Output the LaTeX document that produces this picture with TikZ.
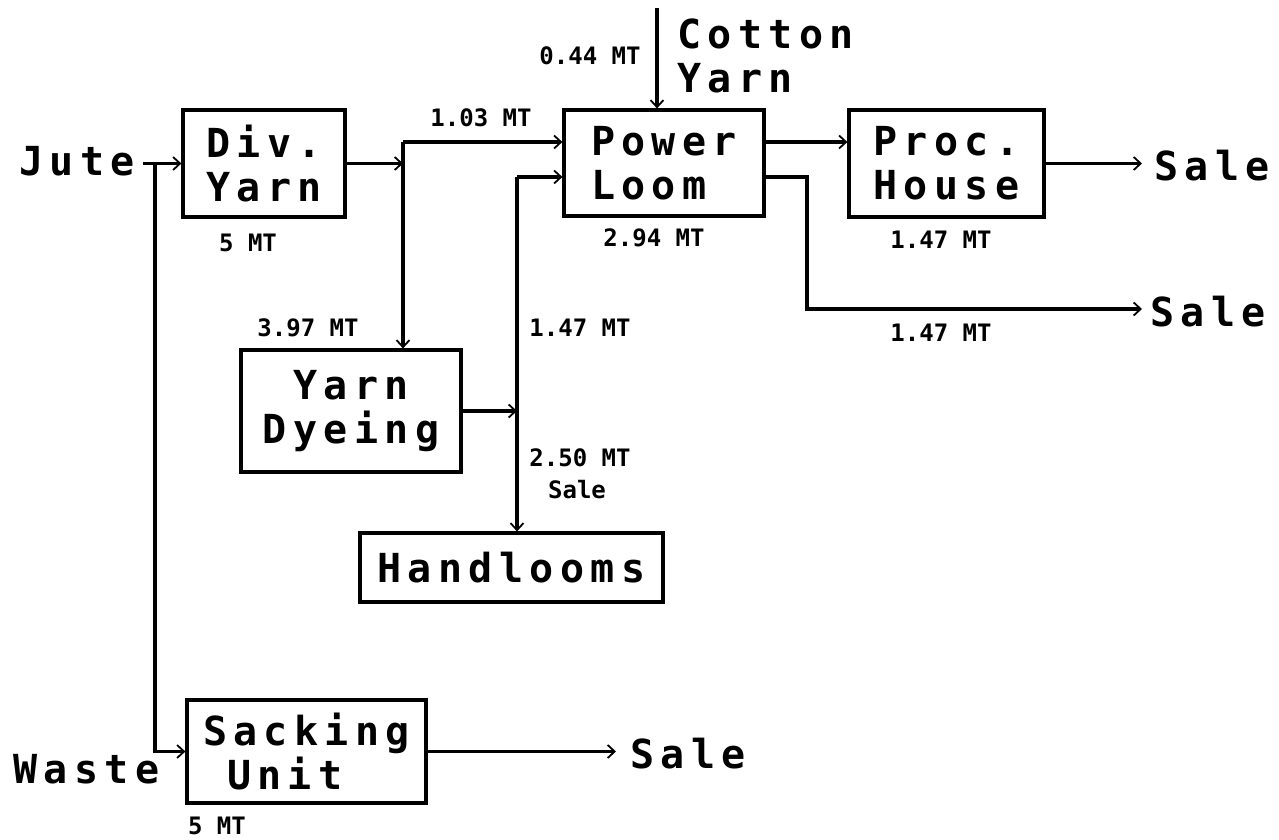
\documentclass[tikz,border=0pt]{standalone}
\usepackage{fontspec}
\usetikzlibrary{arrows.meta}
\newfontfamily\bigfam{DejaVu Sans Mono}[LetterSpace=16]
\newfontfamily\smfam{DejaVu Sans Mono}
\newcommand\bigtxt{\bigfam\bfseries\fontsize{40}{44}\selectfont}
\newcommand\smtxt{\smfam\bfseries\fontsize{24}{26}\selectfont}
\tikzset{
  box/.style={draw, line width=3.2pt, inner sep=0pt, font=\bigtxt},
  bigt/.style={font=\bigtxt, inner sep=0pt},
  lbl/.style={font=\smtxt, inner sep=0pt},
  ln/.style={line width=3.2pt},
  arr/.style={line width=3.2pt, -{Straight Barb[length=7pt,width=13pt,line width=1.8pt]}}
}
\begin{document}
\begin{tikzpicture}[x=1pt,y=-1pt]
\useasboundingbox[fill=white] (0,0) rectangle (1279,840);

% boxes
\node[box, minimum width=162pt, minimum height=107pt, align=left] (divyarn) at (264,163.5) {Div.\\Yarn};
\node[box, minimum width=200pt, minimum height=106pt, align=left] (power) at (664,163) {Power\\Loom};
\node[box, minimum width=195pt, minimum height=107pt, align=left] (proc) at (946.5,163.5) {Proc.\\House};
\node[box, minimum width=220pt, minimum height=122pt, align=center] (dye) at (351,411) {Yarn\\Dyeing};
\node[box, minimum width=303pt, minimum height=69pt] (hand) at (511.5,567.5) {Handlooms};
\node[box, minimum width=239pt, minimum height=103pt, align=left] (sack) at (306.5,751.5) {Sacking\\\hspace*{24pt}Unit};

% big texts
\node[bigt, anchor=base west] (jute) at (19,175) {Jute};
\node[bigt, anchor=base west] (waste) at (13,783) {Waste};
\node[bigt, anchor=north west, align=left] (cotton) at (677,19) {Cotton\\Yarn};
\node[bigt, anchor=base west] (sale1) at (1154,180) {Sale};
\node[bigt, anchor=base west] (sale2) at (1150,326) {Sale};
\node[bigt, anchor=base west] (sale3) at (630,768) {Sale};

% small labels
\node[lbl] (l044) at (590,56) {0.44 MT};
\node[lbl] (l103) at (481,118) {1.03 MT};
\node[lbl] (l294) at (654,238) {2.94 MT};
\node[lbl] (l5a) at (248,243) {5 MT};
\node[lbl] (l147a) at (941,240) {1.47 MT};
\node[lbl] (l147b) at (941,333) {1.47 MT};
\node[lbl] (l397) at (308,328) {3.97 MT};
\node[lbl] (l147c) at (580,328) {1.47 MT};
\node[lbl] (l250) at (580,458) {2.50 MT};
\node[lbl] (lsale) at (577,490) {Sale};
\node[lbl] (l5b) at (217,826) {5 MT};

% junction coordinates
\coordinate (jv) at (155,163.5);
\coordinate (ja) at (403,163.5);
\coordinate (ya) at (0,142);
\coordinate (yb) at (0,177);
\coordinate (jb) at (517,411);
\coordinate (ctop) at (657,8);
\coordinate (pc) at (807,309);

% connectors
\draw[arr] ([xshift=8pt]jute.east |- divyarn.west) -- (divyarn.west);
\draw[arr] (jv) |- (sack.west);
\draw[arr] (divyarn.east) -- (ja);
\draw[arr] (ja |- ya) -- (power.west |- ya);
\draw[arr] (ja |- ya) -- (ja |- dye.north);
\draw[arr] (ctop) -- (ctop |- power.north);
\draw[arr] (power.east |- ya) -- (proc.west |- ya);
\draw[arr, shorten >=12pt] (proc.east) -- (proc.east -| sale1.west);
\draw[arr, shorten >=8pt] (power.east |- yb) -| (pc) -- (pc -| sale2.west);
\draw[arr] (dye.east) -- (jb);
\draw[arr] (jb |- yb) -- (power.west |- yb);
\draw[arr] (jb |- yb) -- (jb |- hand.north);
\draw[arr, shorten >=14pt] (sack.east) -- (sack.east -| sale3.west);
\end{tikzpicture}
\end{document}
